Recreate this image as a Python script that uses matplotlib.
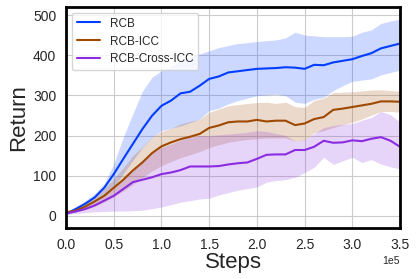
import numpy as np
import matplotlib
matplotlib.use("Agg")
import matplotlib.pyplot as plt
import seaborn as sns

sns.set_style("whitegrid")
plt.rcParams['font.family'] = ['Liberation Sans', 'DejaVu Sans']

# training steps (every 1e4)
steps = np.arange(36) * 1e4

# RCB
rcb_mean = [5, 17, 30, 46, 70, 104, 142, 179, 216, 249, 274, 287, 305, 309, 324, 341, 347, 357,
            360, 363, 366, 367, 368, 370, 369, 366, 376, 375, 382, 386, 390, 398, 405, 417, 423, 429]
rcb_upper = [8, 22, 38, 55, 80, 129, 196, 254, 310, 345, 361, 372, 386, 395, 403, 411, 419, 424,
             429, 431, 434, 436, 438, 443, 457, 450, 448, 446, 446, 446, 447, 457, 463, 479, 485, 490]
rcb_lower = [2, 12, 22, 37, 55, 73, 105, 138, 170, 195, 212, 218, 224, 232, 241, 262, 268, 279,
             287, 293, 299, 301, 303, 299, 283, 280, 290, 295, 312, 324, 335, 338, 341, 351, 357, 363]

# RCB-ICC
icc_mean = [9, 13, 23, 36, 50, 70, 90, 113, 133, 156, 173, 183, 191, 197, 204, 219, 225, 233,
            235, 235, 239, 235, 237, 237, 226, 230, 241, 246, 264, 267, 271, 275, 279, 285, 285, 284]
icc_upper = [11, 17, 30, 48, 68, 92, 120, 150, 172, 196, 210, 218, 229, 235, 241, 258, 266, 274,
             277, 280, 282, 283, 280, 283, 272, 270, 287, 293, 307, 308, 309, 311, 313, 314, 312, 310]
icc_lower = [7, 9, 16, 24, 34, 48, 62, 78, 95, 112, 125, 135, 145, 152, 160, 170, 177, 183,
             187, 190, 192, 194, 194, 194, 186, 189, 207, 212, 220, 227, 233, 241, 251, 260, 260, 258]

# RCB-Cross-ICC
cross_mean = [6, 11, 17, 26, 38, 50, 67, 84, 90, 96, 104, 108, 114, 123, 123, 123, 124, 128,
              131, 133, 142, 152, 153, 153, 164, 164, 172, 187, 182, 183, 188, 186, 192, 196, 187, 172]
cross_upper = [8, 14, 24, 36, 52, 70, 92, 113, 135, 155, 170, 179, 188, 196, 200, 200, 202, 204,
               206, 208, 212, 210, 205, 200, 186, 190, 205, 220, 225, 228, 230, 238, 245, 260, 252, 233]
cross_lower = [4, 6, 8, 10, 11, 12, 12, 13, 14, 18, 22, 28, 34, 38, 42, 44, 52, 58,
               64, 68, 72, 84, 88, 90, 96, 108, 121, 146, 128, 137, 146, 133, 140, 129, 122, 117]

series = [
    ("RCB", rcb_mean, rcb_lower, rcb_upper, "#023eff"),
    ("RCB-ICC", icc_mean, icc_lower, icc_upper, "#9f4800"),
    ("RCB-Cross-ICC", cross_mean, cross_lower, cross_upper, "#8b2be2"),
]

fig = plt.figure(figsize=(4.18, 2.79), dpi=100)
ax = fig.add_axes([0.158, 0.183, 0.799, 0.792])

for name, m, lo, hi, c in series:
    ax.plot(steps, m, color=c, lw=1.5, label=name)
    ax.fill_between(steps, lo, hi, color=c, alpha=0.2, lw=0)

ax.set_xlim(0, 3.5e5)
ax.set_ylim(-30, 520)
ax.set_yticks([0, 100, 200, 300, 400, 500])
ax.set_xticks(np.arange(0, 3.51e5, 0.5e5))
ax.ticklabel_format(axis="x", style="sci", scilimits=(5, 5))
ax.tick_params(labelsize=10, colors="#262626")
ax.xaxis.get_offset_text().set_fontsize(7.5)
ax.set_xlabel("Steps", fontsize=16, labelpad=0, color="#262626")
ax.set_ylabel("Return", fontsize=16, labelpad=3, color="#262626")

for s in ax.spines.values():
    s.set_color("black")
    s.set_linewidth(2)

ax.legend(loc="upper left", fontsize=8.5, frameon=True)

fig.savefig("out.png", dpi=100)
